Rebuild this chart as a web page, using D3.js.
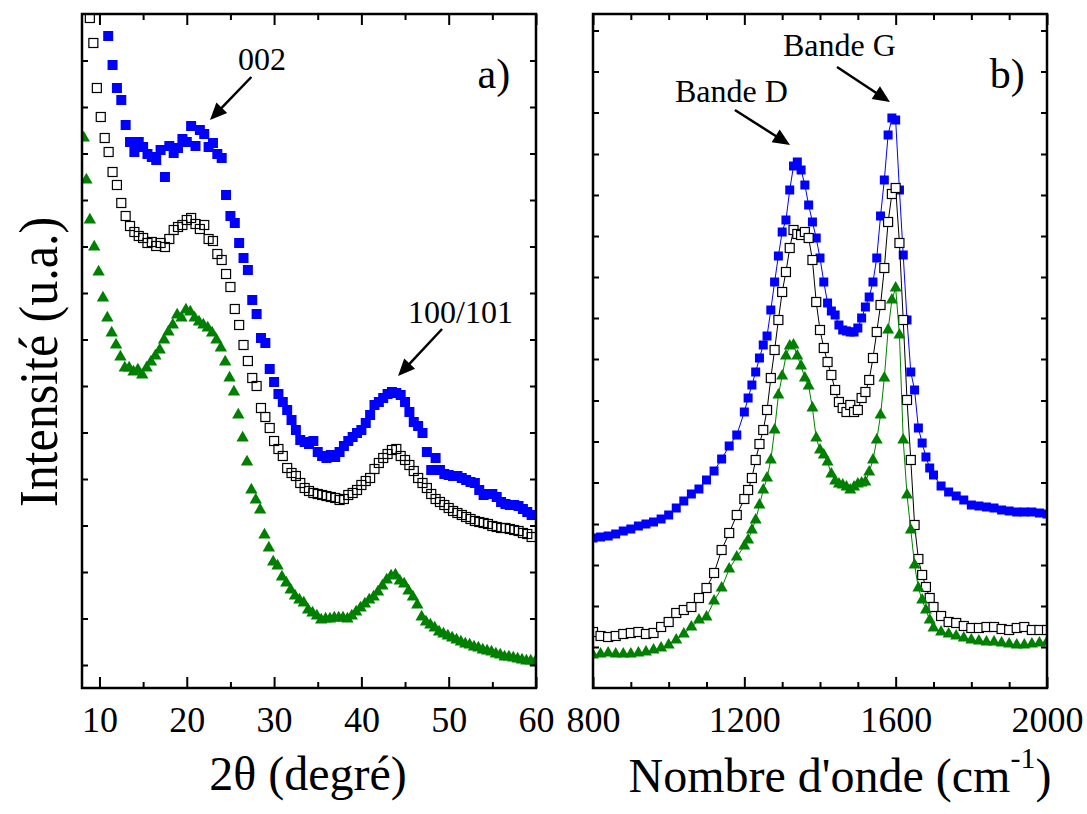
<!DOCTYPE html>
<html><head><meta charset="utf-8">
<script src="https://cdn.jsdelivr.net/npm/d3@7"></script>
<style>html,body{margin:0;padding:0;background:#fff;} svg{display:block;}</style>
</head><body>
<svg id="chart" width="1087" height="814"></svg>
<script>
// ---------- DATA ----------
// Panel a) XRD, intensity in arbitrary units
const xrdBlue = [[11.0,652],[11.5,623],[12.0,600],[12.5,588],[13.0,563],[13.5,546],[14.0,536],[14.5,546],[15.0,541],[15.5,534],[16.0,531],[16.5,528],[17.0,538],[17.5,511],[18.0,542],[18.5,535],[19.0,540],[19.5,549],[20.0,546],[20.5,562],[21.0,542],[21.5,558],[22.0,554],[22.5,541],[23.0,545],[23.5,534],[24.0,530],[24.5,493],[25.0,472],[25.5,465],[26.0,445],[26.5,430],[27.0,418],[27.5,388],[28.0,374],[28.5,350],[29.0,345],[29.5,319],[30.0,306],[30.5,294],[31.0,286],[31.5,278],[32.0,268],[32.5,258],[33.0,248],[33.5,246],[34.0,244],[34.5,247],[35.0,236],[35.5,232],[36.0,230],[36.5,233],[37.0,231],[37.5,236],[38.0,242],[38.5,247],[39.0,251],[39.5,255],[40.0,258],[40.5,265],[41.0,273],[41.5,283],[42.0,286],[42.5,290],[43.0,294],[43.5,296],[44.0,295],[44.5,293],[45.0,286],[45.5,276],[46.0,266],[46.5,262],[47.0,255],[47.5,236],[48.0,218],[48.5,230],[49.0,218],[49.5,214],[50.0,213],[50.5,212],[51.0,212],[51.5,210],[52.0,208],[52.5,206],[53.0,205],[53.5,198],[54.0,193],[54.5,194],[55.0,194],[55.5,191],[56.0,186],[56.5,184],[57.0,183],[57.5,183],[58.0,182],[58.5,179],[59.0,176],[59.5,173]];
const xrdBlack = [[8.9,670],[9.3,645],[9.7,600],[10.15,571],[10.6,550],[11.05,536],[11.5,516],[12.0,503],[12.5,485],[13.0,472],[13.5,462],[14.0,456],[14.5,452],[15.0,450],[15.5,445],[16.0,446],[16.5,442],[17.0,445],[17.5,441],[18.0,449],[18.5,458],[19.0,461],[19.5,463],[20.0,468],[20.5,470],[21.0,464],[21.5,459],[22.0,463],[22.5,449],[23.0,447],[23.5,434],[24.0,428],[24.5,414],[25.0,401],[25.5,379],[26.0,363],[26.5,343],[27.0,327],[27.5,310],[28.0,302],[28.5,280],[29.0,271],[29.5,260],[30.0,247],[30.5,239],[31.0,232],[31.5,220],[32.0,215],[32.5,212],[33.0,205],[33.5,200],[34.0,197],[34.5,195],[35.0,194],[35.5,193],[36.0,192],[36.5,191],[37.0,190],[37.5,188],[38.0,189],[38.5,193],[39.0,195],[39.5,198],[40.0,203],[40.5,207],[41.0,210],[41.5,219],[42.0,225],[42.5,230],[43.0,234],[43.5,238],[44.0,239],[44.5,232],[45.0,228],[45.5,223],[46.0,217],[46.5,210],[47.0,205],[47.5,200],[48.0,194],[48.5,189],[49.0,186],[49.5,183],[50.0,180],[50.5,177],[51.0,175],[51.5,173],[52.0,171],[52.5,169],[53.0,167],[53.5,166],[54.0,165],[54.5,164],[55.0,162],[55.5,161],[56.0,160],[56.5,160],[57.0,159],[57.5,158],[58.0,157],[58.5,155],[59.0,154],[59.5,151]];
const xrdGreen = [[8.2,550],[8.5,508],[8.9,468],[9.4,441],[9.9,416],[10.4,390],[10.9,370],[11.4,355],[11.9,343],[12.4,331],[12.9,320],[13.4,320],[13.9,316],[14.4,318],[14.9,313],[15.4,320],[15.9,326],[16.4,332],[16.9,338],[17.4,348],[17.9,356],[18.4,363],[18.9,373],[19.4,370],[19.9,378],[20.4,376],[20.9,370],[21.4,366],[21.9,363],[22.4,360],[22.9,355],[23.4,348],[23.9,340],[24.4,326],[24.9,310],[25.4,296],[25.9,273],[26.4,250],[26.9,226],[27.4,198],[27.9,188],[28.4,178],[28.9,153],[29.4,140],[29.9,126],[30.4,122],[30.9,111],[31.4,105],[31.9,98],[32.4,92],[32.9,88],[33.4,85],[33.9,78],[34.4,75],[34.9,72],[35.4,68],[35.9,69],[36.4,69],[36.9,70],[37.4,70],[37.9,70],[38.4,69],[38.9,72],[39.4,76],[39.9,80],[40.4,84],[40.9,88],[41.4,91],[41.9,96],[42.4,102],[42.9,108],[43.4,112],[43.9,113],[44.4,107],[44.9,104],[45.4,97],[45.9,91],[46.4,83],[46.9,71],[47.4,66],[47.9,63],[48.4,60],[48.9,56],[49.4,54],[49.9,52],[50.4,50],[50.9,48],[51.4,46],[51.9,44],[52.4,43],[52.9,41],[53.4,40],[53.9,38],[54.4,37],[54.9,36],[55.4,34],[55.9,33],[56.4,31],[56.9,31],[57.4,30],[57.9,29],[58.4,28],[58.9,27],[59.4,27],[59.9,26]];

// Panel b) Raman
const ramanWavenumber = [800,820,840,860,880,900,920,940,960,980,1000,1020,1040,1060,1080,1100,1120,1140,1160,1180,
 1200,1210,1220,1230,1240,1250,1260,1270,1280,1290,1300,1310,1320,1330,1340,1350,1360,1370,1380,1390,
 1400,1410,1420,1430,1440,1450,1460,1470,1480,1490,1500,1510,1520,1530,1540,1550,1560,1570,1580,1590,
 1600,1610,1620,1630,1640,1650,1660,1670,1680,1690,1700,
 1720,1740,1760,1780,1800,1820,1840,1860,1880,1900,1920,1940,1960,1980,2000];
const ramanBlue = [150,151,152,154,157,159,162,164,166,169,173,180,187,194,199,208,217,229,242,253,
 276,290,303,316,330,343,352,378,406,432,456,468,498,522,526,518,503,483,466,450,
 430,406,385,377,373,363,358,357,356,356,360,370,381,391,406,430,472,508,553,570,
 568,498,433,368,316,298,260,245,231,220,213,
 202,196,192,188,183,182,181,180,178,177,176,176,176,175,174];
const ramanBlack = [56,52,51,52,54,55,56,54,55,61,66,75,78,81,90,100,115,138,155,173,
 189,198,210,228,244,258,278,310,338,368,396,416,440,458,454,453,456,450,428,386,
 358,340,326,313,298,286,280,276,283,276,278,290,296,308,330,356,383,420,466,494,
 500,445,368,288,228,163,129,113,101,90,81,
 72,66,65,62,60,60,61,61,59,58,60,61,58,58,58];
const ramanGreen = [33,34,35,34,34,34,35,36,38,40,43,48,54,61,68,71,87,100,119,131,
 142,148,158,168,183,198,210,228,258,293,312,332,342,343,332,322,310,302,280,250,
 238,233,226,214,207,204,203,201,198,201,204,205,206,216,228,248,273,310,358,388,
 400,353,248,193,158,123,100,88,78,68,60,
 56,54,52,50,48,47,46,46,45,44,43,43,44,45,46];

// Ticks
const xrdMajorTicks = [10,20,30,40,50,60];
const xrdMinorTicks = [15,25,35,45,55];
const ramanMajorTicks = [800,1200,1600,2000];
const ramanMinorTicks = [900,1000,1100,1300,1400,1500,1700,1800,1900];
const xrdYTicks = [23,69.5,116,162.5,209,255.5,302,348.5,395,441.5,488,534.5,581,627.5];
const ramanYTicks = [41,82,123,164,205.5,246.5,287.5,329,370,411,452,493,534,575.5,616.5,657.5];

// ---------- DRAW ----------
const svg = d3.select("#chart");
const FONT = "'Liberation Serif','Times New Roman',serif";
const BLUE = "#0000ff", GREEN = "#008000";

const xL = d3.scaleLinear().domain([8,60]).range([82,536]);
const xR = d3.scaleLinear().domain([800,2000]).range([593,1047]);
const y = d3.scaleLinear().domain([0,674]).range([688,14]);

function axes(x, major, minor, yTicks, id) {
  const [x0, x1] = x.range();
  const [yb, yt] = y.range();
  svg.append("clipPath").attr("id", id).append("rect")
    .attr("x", x0).attr("y", yt).attr("width", x1 - x0).attr("height", yb - yt);
  const style = g => { g.select(".domain").remove(); g.selectAll("line").attr("stroke","#000").attr("stroke-width",2); };
  const gb = svg.append("g").attr("transform", `translate(0,${yb})`)
    .call(d3.axisBottom(x).tickValues(major).tickSizeInner(-11).tickSizeOuter(0).tickFormat(d3.format("d"))).call(style);
  gb.selectAll("text").attr("y", 44).attr("dy", null)
    .attr("font-family", FONT).attr("font-size", 36).attr("fill", "#000");
  svg.append("g").attr("transform", `translate(0,${yb})`)
    .call(d3.axisBottom(x).tickValues(minor).tickSizeInner(-6).tickSizeOuter(0).tickFormat("")).call(style);
  svg.append("g").attr("transform", `translate(0,${yt})`)
    .call(d3.axisTop(x).tickValues(major).tickSizeInner(-11).tickSizeOuter(0).tickFormat("")).call(style);
  svg.append("g").attr("transform", `translate(0,${yt})`)
    .call(d3.axisTop(x).tickValues(minor).tickSizeInner(-6).tickSizeOuter(0).tickFormat("")).call(style);
  svg.append("g").attr("transform", `translate(${x0},0)`)
    .call(d3.axisLeft(y).tickValues(yTicks).tickSizeInner(-6).tickSizeOuter(0).tickFormat("")).call(style);
  svg.append("g").attr("transform", `translate(${x1},0)`)
    .call(d3.axisRight(y).tickValues(yTicks).tickSizeInner(-6).tickSizeOuter(0).tickFormat("")).call(style);
  svg.append("rect").attr("x", x0).attr("y", yt).attr("width", x1 - x0).attr("height", yb - yt)
    .attr("fill", "none").attr("stroke", "#000").attr("stroke-width", 2.5);
}

// ---- Panel a ----
const gA = svg.append("g").attr("clip-path", "url(#clipA)");
const tri = d3.symbol().type(d3.symbolTriangle).size(66);
gA.selectAll("path.g").data(xrdGreen).join("path")
  .attr("d", tri).attr("transform", d => `translate(${xL(d[0])},${y(d[1])})`).attr("fill", GREEN);
gA.selectAll("rect.k").data(xrdBlack).join("rect").attr("class","k")
  .attr("x", d => xL(d[0]) - 4.5).attr("y", d => y(d[1]) - 4.5).attr("width", 9).attr("height", 9)
  .attr("fill", "none").attr("stroke", "#000").attr("stroke-width", 1.2);
gA.selectAll("rect.b").data(xrdBlue).join("rect").attr("class","b")
  .attr("x", d => xL(d[0]) - 5).attr("y", d => y(d[1]) - 5).attr("width", 10).attr("height", 10)
  .attr("fill", BLUE);

// ---- Panel b ----
const gB = svg.append("g").attr("clip-path", "url(#clipB)");
function ramanSeries(vals, color, kind) {
  const pts = ramanWavenumber.map((w, i) => [w, vals[i]]);
  gB.append("path").datum(pts).attr("fill", "none").attr("stroke", color).attr("stroke-width", 1)
    .attr("d", d3.line().x(d => xR(d[0])).y(d => y(d[1])));
  const g = gB.append("g");
  if (kind === "fsq") {
    g.selectAll("rect").data(pts).join("rect")
      .attr("x", d => xR(d[0]) - 4.5).attr("y", d => y(d[1]) - 4.5).attr("width", 9).attr("height", 9).attr("fill", color);
  } else if (kind === "osq") {
    g.selectAll("rect").data(pts).join("rect")
      .attr("x", d => xR(d[0]) - 4.5).attr("y", d => y(d[1]) - 4.5).attr("width", 9).attr("height", 9)
      .attr("fill", "#fff").attr("stroke", color).attr("stroke-width", 1.2);
  } else {
    g.selectAll("path").data(pts).join("path")
      .attr("d", d3.symbol().type(d3.symbolTriangle).size(62))
      .attr("transform", d => `translate(${xR(d[0])},${y(d[1])})`).attr("fill", color);
  }
}
ramanSeries(ramanBlue, BLUE, "fsq");
ramanSeries(ramanBlack, "#000", "osq");
ramanSeries(ramanGreen, GREEN, "tri");

axes(xL, xrdMajorTicks, xrdMinorTicks, xrdYTicks, "clipA");
axes(xR, ramanMajorTicks, ramanMinorTicks, ramanYTicks, "clipB");

// ---- Annotations ----
function text(x, yy, str, size, anchor) {
  return svg.append("text").attr("x", x).attr("y", yy).attr("font-family", FONT)
    .attr("font-size", size).attr("text-anchor", anchor || "start").attr("fill", "#000").text(str);
}
function arrow(x1, y1, x2, y2) {
  const dx = x2 - x1, dy = y2 - y1, L = Math.hypot(dx, dy), ux = dx / L, uy = dy / L;
  const hl = 17, hw = 7.5;
  const bx = x2 - ux * hl, by = y2 - uy * hl;
  svg.append("line").attr("x1", x1).attr("y1", y1).attr("x2", bx + ux * 2).attr("y2", by + uy * 2)
    .attr("stroke", "#000").attr("stroke-width", 2.5);
  svg.append("path").attr("d", `M${x2},${y2}L${bx - uy * hw},${by + ux * hw}L${bx + uy * hw},${by - ux * hw}Z`).attr("fill", "#000");
}
text(xL(25.87), y(618), "002", 32);
arrow(xL(27.4), y(611), xL(22.66), y(568));
text(xL(45.34), y(365), "100/101", 32);
arrow(xL(49.24), y(359), xL(44.2), y(312));
text(xL(53.3), y(600), "a)", 42);

text(xR(1016.8), y(586), "Bande D", 32);
arrow(xR(1175), y(578), xR(1320.7), y(543));
text(xR(1302.2), y(632), "Bande G", 32);
arrow(xR(1445), y(621), xR(1585), y(586));
text(xR(1849), y(600), "b)", 42);

// axis titles
text(308, 790, "2θ (degré)", 48, "middle");
const t = svg.append("text").attr("x", 840).attr("y", 792).attr("font-family", FONT)
  .attr("font-size", 48).attr("text-anchor", "middle").attr("fill", "#000");
t.append("tspan").text("Nombre d'onde (cm");
t.append("tspan").attr("font-size", 30).attr("dy", -24).text("-1");
t.append("tspan").attr("dy", 24).text(")");
svg.append("text").attr("transform", "translate(57,362) rotate(-90) scale(1,1.08)").attr("text-anchor", "middle")
  .attr("font-family", FONT).attr("font-size", 50).attr("fill", "#000").text("Intensité (u.a.)");
</script>
</body></html>
